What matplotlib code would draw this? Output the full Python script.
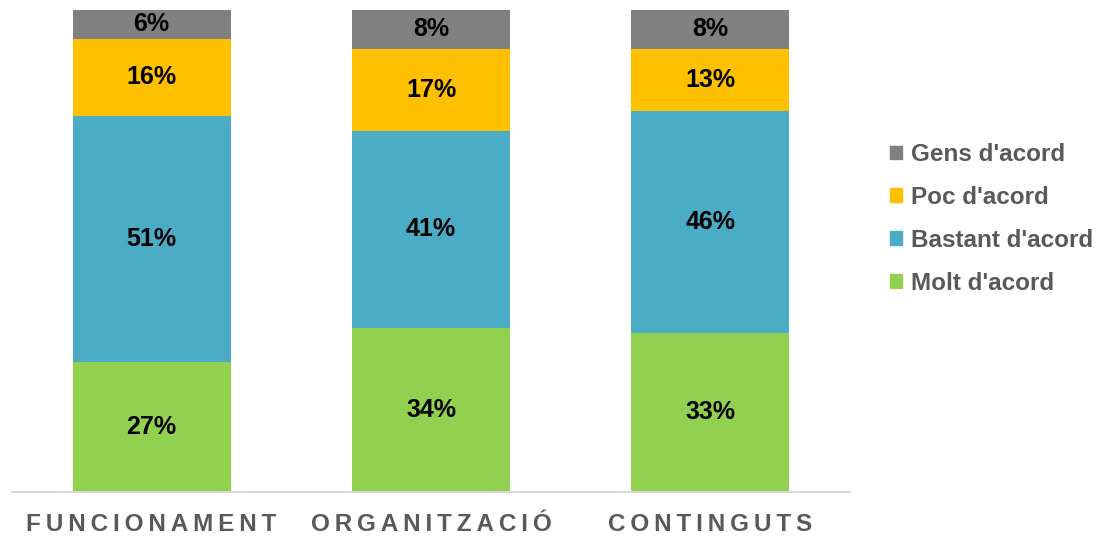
import matplotlib.pyplot as plt
from matplotlib.patches import Patch
import numpy as np

plt.rcParams['font.family'] = ['Liberation Sans', 'DejaVu Sans']

categories = ['FUNCIONAMENT', 'ORGANITZACIÓ', 'CONTINGUTS']
series = ['Molt d\'acord', 'Bastant d\'acord', 'Poc d\'acord', 'Gens d\'acord']
values = {
    'Molt d\'acord': [27, 34, 33],
    'Bastant d\'acord': [51, 41, 46],
    'Poc d\'acord': [16, 17, 13],
    'Gens d\'acord': [6, 8, 8],
}
colors = ['#92D050', '#4BACC6', '#FFC000', '#808080']

fig = plt.figure(figsize=(10.97, 5.36), dpi=100)
ax = fig.add_axes([12 / 1097, 44 / 536, 838 / 1097, 482 / 536])

x = np.arange(len(categories))
bottom = np.zeros(len(categories))
for name, col in zip(series, colors):
    v = np.array(values[name])
    ax.bar(x, v, 0.565, bottom=bottom, color=col, edgecolor='none')
    for xi, vi, bi in zip(x, v, bottom):
        ax.text(xi, bi + vi / 2, f'{vi}%', ha='center', va='center',
                fontsize=18, fontweight='bold', color='black')
    bottom += v

ax.set_xlim(-0.5, 2.5)
ax.set_ylim(0, 100)
ax.set_yticks([])
ax.set_xticks(x)
ax.set_xticklabels(['\u2009'.join(c) for c in categories], fontsize=17.5,
                   fontweight='bold', color='#595959')
ax.tick_params(axis='x', length=0, pad=15)
for s in ['top', 'right', 'left']:
    ax.spines[s].set_visible(False)
ax.spines['bottom'].set_color('#D9D9D9')
ax.spines['bottom'].set_linewidth(1.5)

handles = [Patch(color=c, label=n) for n, c in zip(series, colors)]
fig.legend(handles[::-1], [h.get_label() for h in handles[::-1]],
           loc='center left', bbox_to_anchor=(890 / 1097, 1 - 219 / 536),
           frameon=False, prop={'size': 17.5, 'weight': 'bold'},
           labelcolor='#595959',
           handlelength=0.5, handleheight=0.5, handletextpad=0.35,
           labelspacing=0.82, borderaxespad=0, borderpad=0)

fig.savefig('out.png', dpi=100)
